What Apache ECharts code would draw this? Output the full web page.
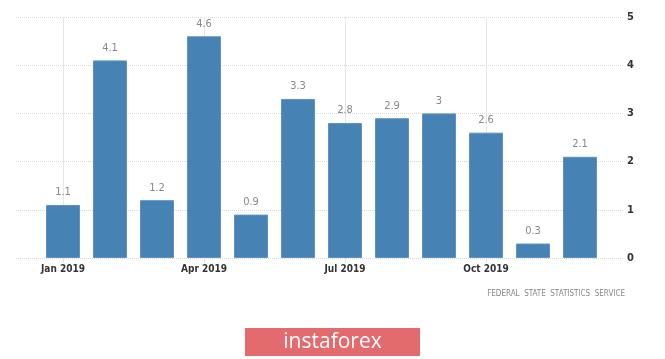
<!DOCTYPE html>
<html><head><meta charset="utf-8">
<script src="https://cdn.jsdelivr.net/npm/echarts@6/dist/echarts.min.js"></script>
<style>html,body{margin:0;padding:0;background:#fff}#c{width:665px;height:359px}</style>
</head><body><div id="c"></div>
<script>
var months = ['Jan 2019','Feb 2019','Mar 2019','Apr 2019','May 2019','Jun 2019','Jul 2019','Aug 2019','Sep 2019','Oct 2019','Nov 2019','Dec 2019'];
var values = [1.1, 4.1, 1.2, 4.6, 0.9, 3.3, 2.8, 2.9, 3, 2.6, 0.3, 2.1];
var gridLineMonths = ['Jan 2019','Apr 2019','Jul 2019','Oct 2019'];
var sourceText = 'FEDERAL  STATE  STATISTICS  SERVICE';
var brandText = 'instaforex';

var font = '"DejaVu Sans Condensed", "Liberation Sans Narrow", Arial, sans-serif';
var chart = echarts.init(document.getElementById('c'));
chart.setOption({
  animation: false,
  grid: [
    {left: 16, right: 42, top: 17, bottom: 101},
    {left: 39.5, right: 61.5, top: 17, bottom: 101}
  ],
  xAxis: [
    {gridIndex: 0, type: 'value', show: false, min: 0, max: 1},
    {gridIndex: 1, type: 'category', data: months,
     axisLine: {show: false},
     axisTick: {show: true, interval: 2, alignWithLabel: true, length: 5, lineStyle: {color: '#e0e0e0'}},
     axisLabel: {interval: 2, color: '#333', fontSize: 10, fontWeight: 'bold', fontFamily: font, margin: 6},
     splitLine: {show: false}}
  ],
  yAxis: [
    {gridIndex: 0, type: 'value', position: 'right', min: 0, max: 5, interval: 1,
     axisLine: {show: false}, axisTick: {show: false},
     axisLabel: {color: '#333', fontSize: 11, fontFamily: font, margin: 4, fontWeight: 'bold'},
     splitLine: {show: true, lineStyle: {color: '#d8d8d8', type: [1, 1], width: 1}}},
    {gridIndex: 1, type: 'value', min: 0, max: 5, show: false}
  ],
  series: [{
    type: 'line', xAxisIndex: 1, yAxisIndex: 1, data: [], z: 0,
    markLine: {
      silent: true, symbol: 'none', label: {show: false}, z: 0,
      lineStyle: {color: '#e6e6e6', type: 'solid', width: 1},
      data: gridLineMonths.map(function (m) { return {xAxis: m}; })
    }
  }, {
    type: 'bar', xAxisIndex: 1, yAxisIndex: 1, data: values, barWidth: 34,
    itemStyle: {color: '#4682b4', borderColor: '#5d92c2', borderWidth: 1},
    label: {show: true, position: 'top', distance: 7, color: '#888', fontSize: 11, fontFamily: font},
    z: 5
  }],
  graphic: [
    {type: 'text', right: 40, top: 290, style: {text: sourceText, fill: '#888', fontSize: 8, fontFamily: font}},
    {type: 'rect', shape: {x: 245, y: 328, width: 175, height: 28}, style: {fill: '#e46b6d'}},
    {type: 'text', x: 332.5, y: 342, style: {text: brandText, fill: '#fff', fontSize: 21, fontFamily: '"Open Sans", sans-serif', align: 'center', verticalAlign: 'middle'}}
  ]
});
</script></body></html>
